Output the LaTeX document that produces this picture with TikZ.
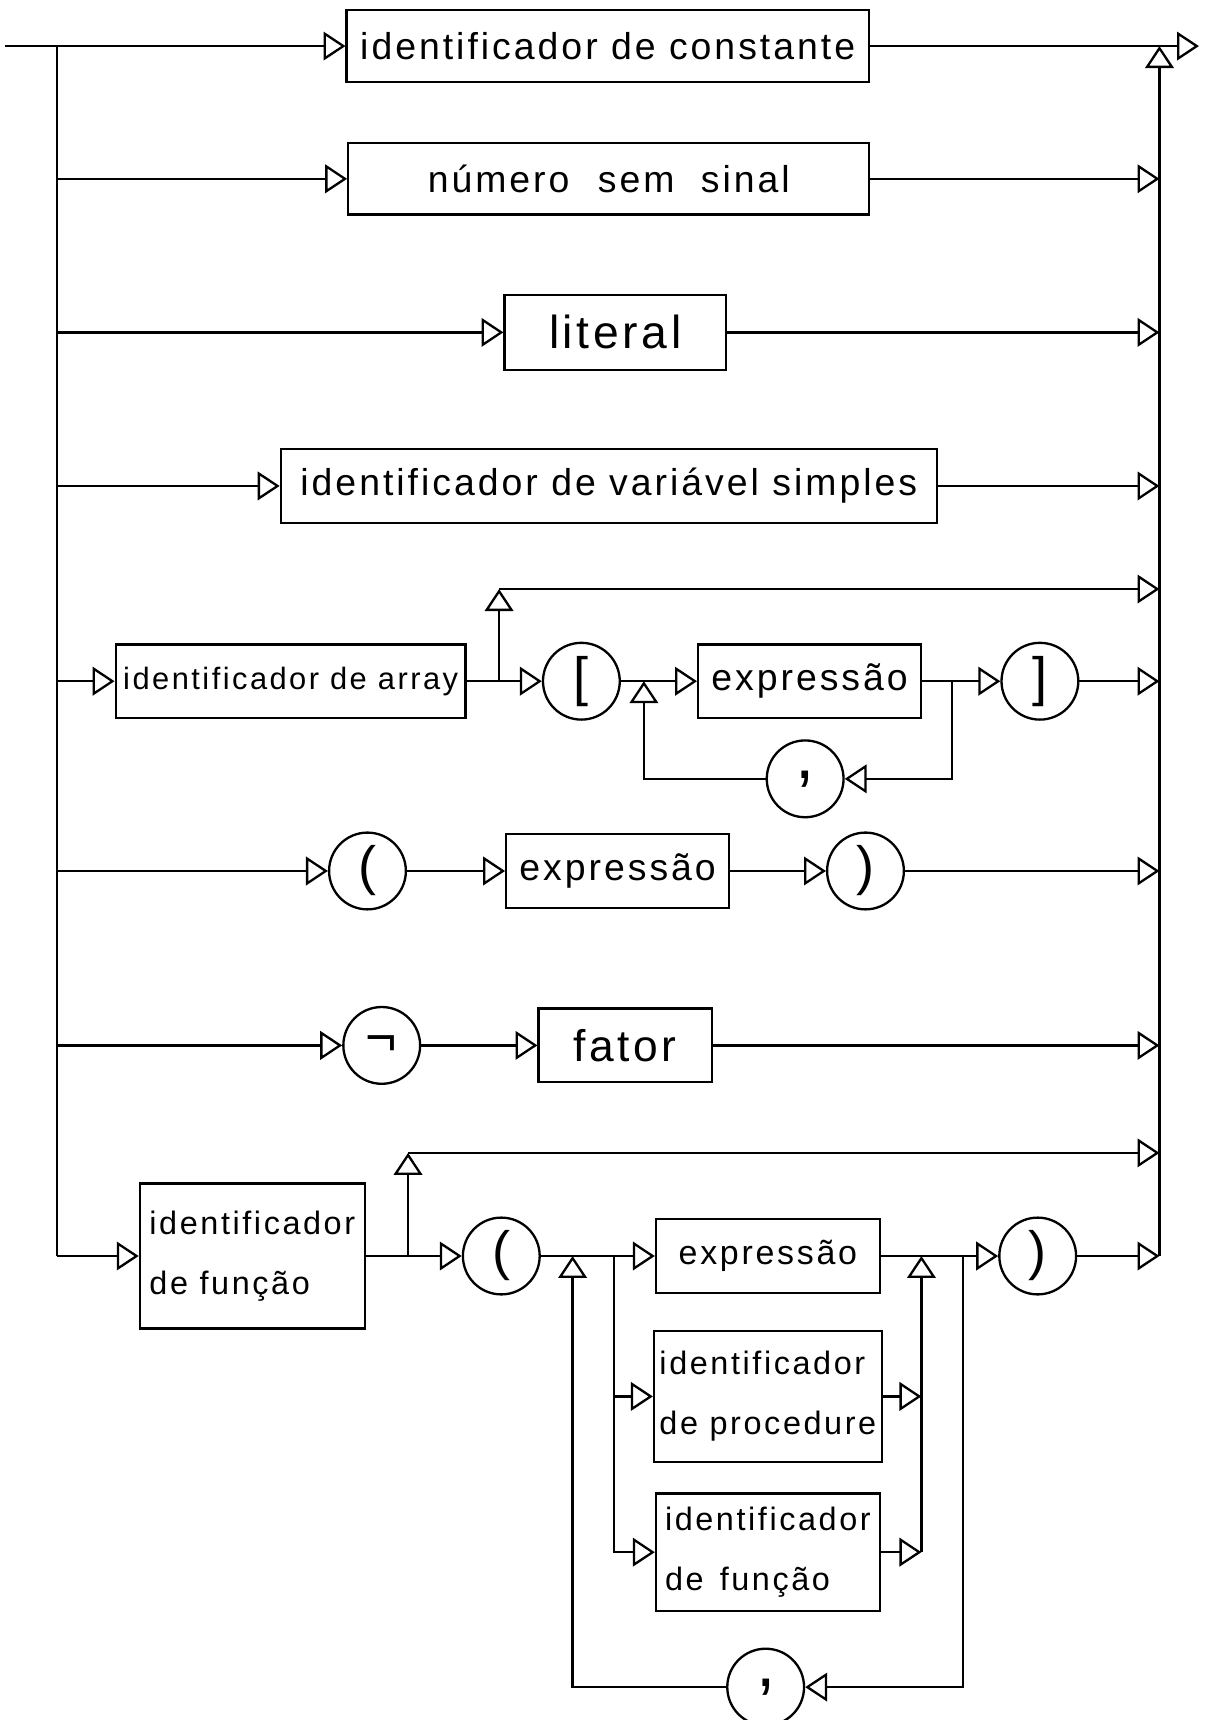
\documentclass[tikz,border=0pt]{standalone}
\usepackage{fontspec}
\newfontfamily\hand[LetterSpace=8]{Liberation Sans}
\usetikzlibrary{arrows.meta}

\newcommand\handat[2]{\hand\fontsize{#1}{#2}\selectfont}

\begin{document}
\begin{tikzpicture}[x=0.1mm,y=-0.1mm,line width=0.6pt,
    flow/.style={-{Triangle[open,length=2mm,width=2.6mm]}},
    ntbox/.style={draw,rectangle,inner sep=0.5mm,font=\handat{9.7}{12}},
    tmcirc/.style={draw,circle,minimum size=7mm,inner sep=0pt,font=\handat{14}{14}}]
  \useasboundingbox (0,0) rectangle (1099,1568);

  % buses and free ends
  \coordinate (in)  at (5,42);
  \coordinate (out) at (1093,42);
  \coordinate (L)   at (52,42);
  \coordinate (R)   at (1057,42);

  % simple alternatives
  \node[ntbox,minimum width=47.6mm,minimum height=6.6mm] (cte) at (554,42)
    {identificador de constante};
  \node[ntbox,minimum width=47.5mm,minimum height=6.5mm] (num) at (555,163)
    {número\hspace{2.6mm}sem\hspace{2.4mm}sinal};
  \node[ntbox,minimum width=20.2mm,minimum height=6.8mm,font=\handat{12}{14}] (lit) at (561,303)
    {literal};
  \node[ntbox,minimum width=59.8mm,minimum height=6.7mm] (var) at (555,443)
    {identificador de variável simples};

  % array access
  \node[ntbox,minimum width=31.9mm,minimum height=6.7mm,font=\handat{8}{10}] (arr) at (265,621)
    {identificador de array};
  \node[tmcirc] (lbr) at (530,621) {[};
  \node[ntbox,minimum width=20.3mm,minimum height=6.7mm] (exa) at (738,621) {expressão};
  \node[tmcirc] (rbr) at (948,621) {]};
  \node[tmcirc,font=\handat{18}{18}] (cma) at (734,710) {,};
  \coordinate (b2)    at (455,621);
  \coordinate (b2top) at (455,537);
  \coordinate (j2)    at (587,621);
  \coordinate (s3)    at (868,621);

  % parenthesised expression
  \node[tmcirc] (lpa) at (335,794) {(};
  \node[ntbox,minimum width=20.3mm,minimum height=6.7mm] (exb) at (563,794) {expressão};
  \node[tmcirc] (rpa) at (789,794) {)};

  % negation
  \node[tmcirc] (neg) at (348,953) {¬};
  \node[ntbox,minimum width=15.8mm,minimum height=6.7mm,font=\handat{11.5}{14}] (fat) at (570,953)
    {fator};

  % function call
  \node[ntbox,minimum width=20.5mm,minimum height=13.2mm,align=left,font=\handat{8.4}{15.6}]
    (fun) at (230,1145) {identificador\\de função};
  \node[tmcirc] (lpb) at (457,1145) {(};
  \node[ntbox,minimum width=20.4mm,minimum height=6.7mm,font=\handat{8.8}{12}] (exc) at (700,1145)
    {expressão};
  \node[ntbox,minimum width=20.4mm,minimum height=11.9mm,align=left,font=\handat{8.4}{15.6}]
    (prc) at (700,1273) {identificador\\de procedure};
  \node[ntbox,minimum width=20.4mm,minimum height=10.7mm,align=left,font=\handat{8.4}{15.6}]
    (fnc) at (700,1415) {identificador\\de\enspace função};
  \node[tmcirc,font=\handat{18}{18}] (cmb) at (698,1538) {,};
  \node[tmcirc] (rpb) at (946,1145) {)};
  \coordinate (b1)    at (372,1145);
  \coordinate (b1top) at (372,1051);
  \coordinate (j1)    at (522,1145);
  \coordinate (s1)    at (560,1145);
  \coordinate (m1)    at (840,1145);
  \coordinate (s2)    at (878,1145);

  % left and right bus
  \draw (L) -- (L |- fun);
  \draw[flow] (R |- rpb) -- (R);

  \draw[flow] (in) -- (cte);
  \draw[flow] (cte) -- (out);
  \foreach \n in {num,lit,var} {
    \draw[flow] (L |- \n) -- (\n);
    \draw[flow] (\n) -- (R |- \n);
  }

  \draw[flow] (L |- arr) -- (arr);
  \draw[flow] (arr) -- (lbr);
  \draw[flow] (b2) -- (b2top);
  \draw[flow] (b2top) -- (R |- b2top);
  \draw[flow] (lbr) -- (exa);
  \draw[flow] (exa) -- (rbr);
  \draw[flow] (s3) |- (cma);
  \draw[flow] (cma) -| (j2);
  \draw[flow] (rbr) -- (R |- rbr);

  \draw[flow] (L |- lpa) -- (lpa);
  \draw[flow] (lpa) -- (exb);
  \draw[flow] (exb) -- (rpa);
  \draw[flow] (rpa) -- (R |- rpa);

  \draw[flow] (L |- neg) -- (neg);
  \draw[flow] (neg) -- (fat);
  \draw[flow] (fat) -- (R |- fat);

  \draw[flow] (L |- fun) -- (fun);
  \draw[flow] (fun) -- (lpb);
  \draw[flow] (b1) -- (b1top);
  \draw[flow] (b1top) -- (R |- b1top);
  \draw[flow] (lpb) -- (exc);
  \draw[flow] (s1) |- (prc);
  \draw[flow] (s1) |- (fnc);
  \draw[flow] (prc) -- (m1 |- prc);
  \draw[flow] (fnc) -- (m1 |- fnc);
  \draw[flow] (m1 |- fnc) -- (m1);
  \draw[flow] (exc) -- (rpb);
  \draw[flow] (s2) |- (cmb);
  \draw[flow] (cmb) -| (j1);
  \draw[flow] (rpb) -- (R |- rpb);
\end{tikzpicture}
\end{document}
